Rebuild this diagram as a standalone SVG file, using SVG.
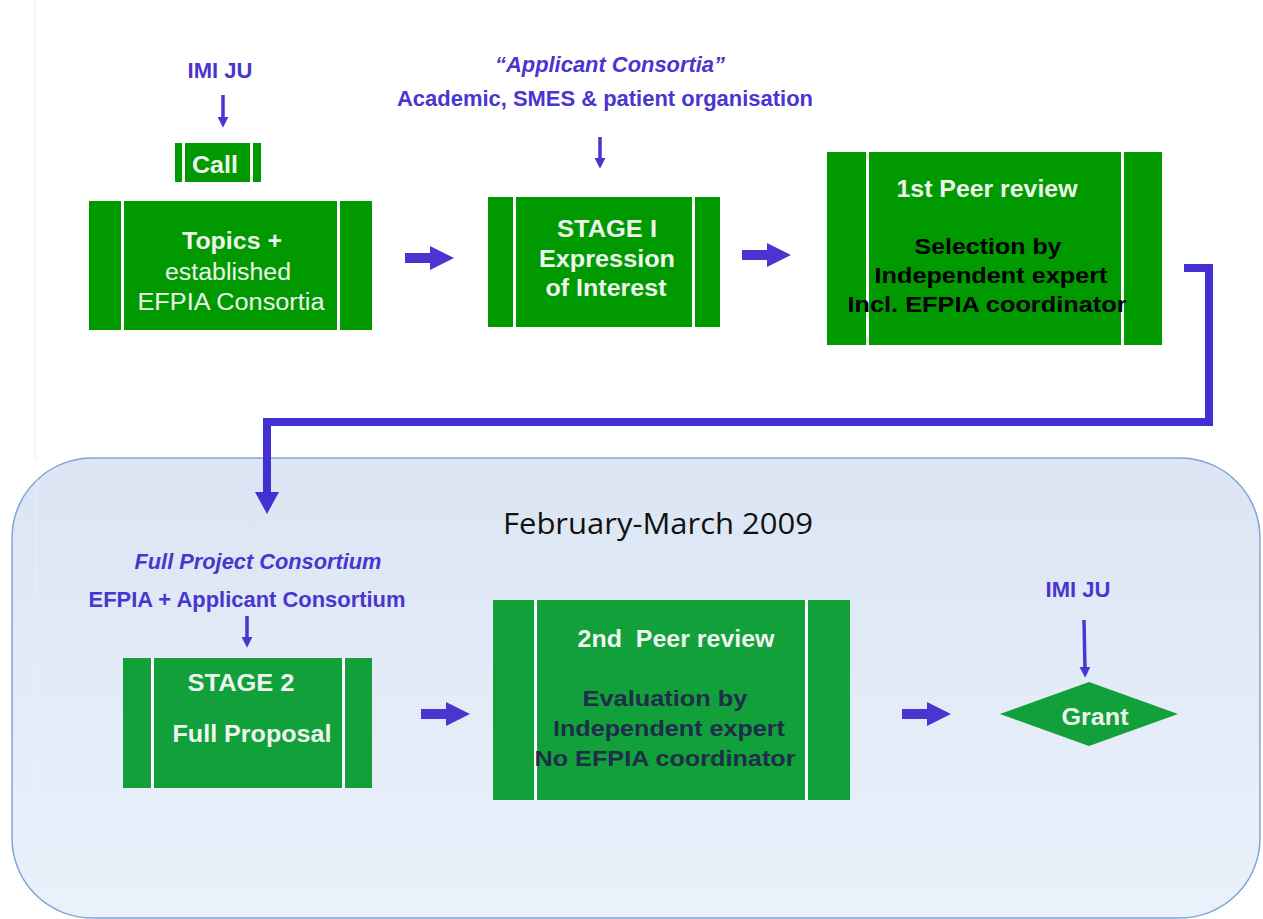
<svg xmlns="http://www.w3.org/2000/svg" width="1263" height="919" viewBox="0 0 1263 919">
  <defs>
    <linearGradient id="panelFill" x1="0" y1="0" x2="0" y2="1">
      <stop offset="0" stop-color="#dbe5f3"/>
      <stop offset="1" stop-color="#eaf1fb"/>
    </linearGradient>
    <!-- small arrowhead for the thin input arrows; drawn along +x, rotated by orient -->
    <marker id="thinHead" viewBox="0 0 10 10" refX="2" refY="5" markerWidth="11" markerHeight="11" markerUnits="userSpaceOnUse" orient="auto">
      <path d="M0,0 L10,5 L0,10 Z" fill="#4a35d0"/>
    </marker>
    <!-- right-pointing block arrow used between stages -->
    <path id="blockArrow" d="M0,-5 L25,-5 L25,-12 L49,0 L25,12 L25,5 L0,5 Z"/>
  </defs>
  <style>
    .top { fill: #009a00; }
    .low { fill: #12a03a; }
    .sep { fill: #ffffff; }
    .blue { fill: #4a35d0; font-family: "Liberation Sans", Arial, sans-serif; font-weight: bold; font-size: 22px; text-anchor: middle; }
    .it { font-style: italic; }
    .wb { fill: #eef5ee; font-family: "Liberation Sans", Arial, sans-serif; font-weight: bold; font-size: 23px; text-anchor: middle; }
    .wr { fill: #eef5ee; font-family: "Liberation Sans", Arial, sans-serif; font-size: 23px; text-anchor: middle; }
    .kb { fill: #000000; font-family: "Liberation Sans", Arial, sans-serif; font-weight: bold; font-size: 22px; text-anchor: middle; }
    .db { fill: #1f2d4a; font-family: "Liberation Sans", Arial, sans-serif; font-weight: bold; font-size: 22px; text-anchor: middle; }
    .conn { fill: #4a35d0; }
    .thin { stroke: #4a35d0; stroke-width: 3.5; marker-end: url(#thinHead); }
  </style>

  <rect width="1263" height="919" fill="#ffffff"/>
  <line x1="35" y1="0" x2="35" y2="460" stroke="#eeeeee" stroke-width="1"/>

  <!-- period panel -->
  <g id="panel">
    <path d="M92,458 H1180 A80,80 0 0 1 1260,538 V838 A80,80 0 0 1 1180,918 H92 A80,80 0 0 1 12,838 V538 A80,80 0 0 1 92,458 Z" fill="url(#panelFill)" stroke="#7fa6d6" stroke-width="1.5"/>
    <path d="M37,460 V830 H1259" fill="none" stroke="#ffffff" stroke-opacity="0.35" stroke-width="1"/>
    <text x="658" y="534" font-family="'Open Sans', 'Liberation Sans', sans-serif" font-size="30" fill="#111111" text-anchor="middle" textLength="310" lengthAdjust="spacingAndGlyphs">February-March 2009</text>
  </g>

  <!-- connectors -->
  <g id="connectors">
    <g class="conn">
      <use href="#blockArrow" x="405" y="258"/>
      <use href="#blockArrow" x="742" y="255"/>
      <use href="#blockArrow" x="421" y="714"/>
      <use href="#blockArrow" x="902" y="714"/>
    </g>
    <path d="M1184,268 H1209 V422 H267 V494" fill="none" stroke="#4430d2" stroke-width="8"/>
    <path d="M255,492 L279,492 L267,514 Z" fill="#4430d2"/>
    <line class="thin" x1="223" y1="95" x2="223" y2="119"/>
    <line class="thin" x1="600" y1="137" x2="600" y2="160"/>
    <line class="thin" x1="247" y1="616" x2="247" y2="639"/>
    <line class="thin" x1="1084" y1="620" x2="1085" y2="669"/>
  </g>

  <!-- top labels -->
  <g id="imi-ju-top">
    <text class="blue" x="220" y="78">IMI JU</text>
  </g>
  <g id="applicants">
    <text class="blue it" x="610" y="72" textLength="230" lengthAdjust="spacingAndGlyphs">“Applicant Consortia”</text>
    <text class="blue" x="605" y="106" textLength="416" lengthAdjust="spacingAndGlyphs">Academic, SMES &amp; patient organisation</text>
  </g>

  <g id="call">
    <rect class="top" x="175" y="143" width="86" height="39"/>
    <rect class="sep" x="182" y="143" width="3" height="39"/>
    <rect class="sep" x="250" y="143" width="3" height="39"/>
    <text class="wb" x="215" y="173" textLength="46" lengthAdjust="spacingAndGlyphs">Call</text>
  </g>

  <g id="topics">
    <rect class="top" x="89" y="201" width="283" height="129"/>
    <rect class="sep" x="121" y="201" width="3" height="129"/>
    <rect class="sep" x="337" y="201" width="3" height="129"/>
    <text class="wb" x="232" y="249" textLength="100" lengthAdjust="spacingAndGlyphs">Topics +</text>
    <text class="wr" x="228" y="280" textLength="126" lengthAdjust="spacingAndGlyphs">established</text>
    <text class="wr" x="231" y="310" textLength="187" lengthAdjust="spacingAndGlyphs">EFPIA Consortia</text>
  </g>

  <g id="stage1">
    <rect class="top" x="488" y="197" width="232" height="130"/>
    <rect class="sep" x="513" y="197" width="3" height="130"/>
    <rect class="sep" x="692" y="197" width="3" height="130"/>
    <text class="wb" x="607" y="237" textLength="100" lengthAdjust="spacingAndGlyphs">STAGE I</text>
    <text class="wb" x="607" y="267" textLength="136" lengthAdjust="spacingAndGlyphs">Expression</text>
    <text class="wb" x="606" y="296" textLength="121" lengthAdjust="spacingAndGlyphs">of Interest</text>
  </g>

  <g id="peer-review-1">
    <rect class="top" x="827" y="152" width="335" height="193"/>
    <rect class="sep" x="866" y="152" width="3" height="193"/>
    <rect class="sep" x="1121" y="152" width="3" height="193"/>
    <text class="wb" x="987" y="197" font-size="21" textLength="181" lengthAdjust="spacingAndGlyphs">1st Peer review</text>
    <text class="kb" x="988" y="254" textLength="147" lengthAdjust="spacingAndGlyphs">Selection by</text>
    <text class="kb" x="991" y="283" textLength="233" lengthAdjust="spacingAndGlyphs">Independent expert</text>
    <text class="kb" x="987" y="312" textLength="279" lengthAdjust="spacingAndGlyphs">Incl. EFPIA coordinator</text>
  </g>

  <!-- lower row -->
  <g id="full-consortium">
    <text class="blue it" x="258" y="569" textLength="247" lengthAdjust="spacingAndGlyphs">Full Project Consortium</text>
    <text class="blue" x="247" y="607" textLength="317" lengthAdjust="spacingAndGlyphs">EFPIA + Applicant Consortium</text>
  </g>

  <g id="stage2">
    <rect class="low" x="123" y="658" width="249" height="130"/>
    <rect class="sep" x="151" y="658" width="3" height="130"/>
    <rect class="sep" x="342" y="658" width="3" height="130"/>
    <text class="wb" x="241" y="691" textLength="107" lengthAdjust="spacingAndGlyphs">STAGE 2</text>
    <text class="wb" x="252" y="742" textLength="159" lengthAdjust="spacingAndGlyphs">Full Proposal</text>
  </g>

  <g id="peer-review-2">
    <rect class="low" x="493" y="600" width="357" height="200"/>
    <rect class="sep" x="534" y="600" width="3" height="200"/>
    <rect class="sep" x="805" y="600" width="3" height="200"/>
    <text class="wb" x="676" y="647" font-size="21" xml:space="preserve" textLength="197" lengthAdjust="spacingAndGlyphs">2nd  Peer review</text>
    <text class="db" x="665" y="706" textLength="165" lengthAdjust="spacingAndGlyphs">Evaluation by</text>
    <text class="db" x="669" y="736" textLength="232" lengthAdjust="spacingAndGlyphs">Independent expert</text>
    <text class="db" x="665" y="766" textLength="261" lengthAdjust="spacingAndGlyphs">No EFPIA coordinator</text>
  </g>

  <g id="imi-ju-grant">
    <text class="blue" x="1078" y="597">IMI JU</text>
  </g>

  <g id="grant">
    <path class="low" d="M1000,714 L1089,682 L1178,714 L1089,746 Z"/>
    <text class="wb" x="1095" y="725" textLength="67" lengthAdjust="spacingAndGlyphs">Grant</text>
  </g>
</svg>
